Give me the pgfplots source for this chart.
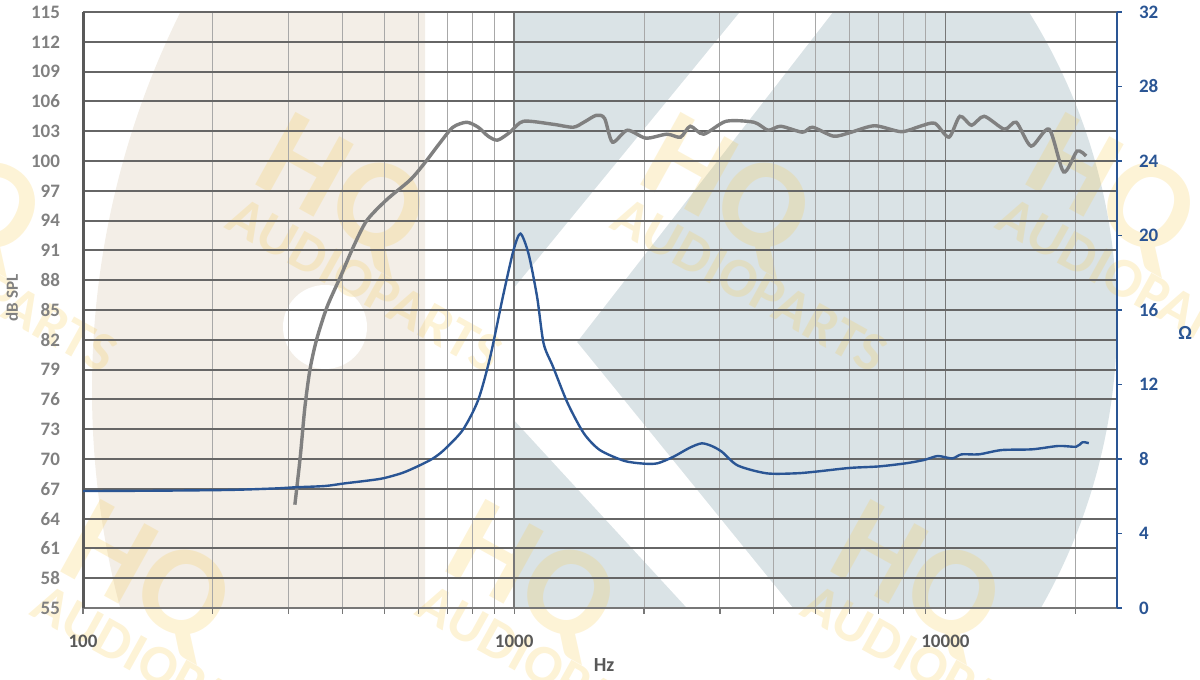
\documentclass[border=0pt]{standalone}
\usepackage{fontspec}
\setmainfont{Carlito}
\usepackage{pgfplots}
\pgfplotsset{compat=1.18}
\definecolor{splgray}{HTML}{808080}
\definecolor{impblue}{HTML}{2A5594}
\definecolor{gridy}{HTML}{666666}
\definecolor{gridxmaj}{HTML}{777777}
\definecolor{gridxmin}{HTML}{A8A8A8}
\definecolor{beigebg}{HTML}{F3EEE7}
\definecolor{bluebg}{HTML}{DAE3E6}
\definecolor{wmc}{HTML}{F6CC55}
\definecolor{ylab}{HTML}{808080}
\definecolor{xlab}{HTML}{595959}
\definecolor{axleft}{HTML}{595959}

\pgfplotstableread{
f db
310 65.4
319 70.2
327 75.2
336 79.0
348 82.0
368 85.3
395 88.3
423 91.3
455 94.0
506 96.1
574 98.1
620 99.8
672 101.8
721 103.4
776 103.9
825 103.4
870 102.5
915 102.1
978 102.9
1050 104.0
1230 103.7
1370 103.4
1450 103.9
1550 104.6
1620 104.3
1690 101.9
1830 103.1
2020 102.3
2260 102.7
2430 102.4
2560 103.5
2750 102.7
3100 104.0
3600 103.9
3880 103.1
4150 103.5
4660 102.9
4920 103.4
5500 102.5
6000 102.85
6850 103.55
7900 102.95
8740 103.5
9450 103.8
10190 102.4
10800 104.5
11500 103.6
12300 104.5
13700 103.2
14600 103.9
15800 101.5
17400 103.2
18800 98.9
20200 101.0
21200 100.5
}\spl

\pgfplotstableread{
f z
100 6.28
150 6.30
219 6.34
280 6.42
310 6.48
364 6.55
404 6.69
450 6.82
496 6.96
550 7.25
595 7.59
645 8.0
687 8.48
760 9.56
825 11.17
880 13.5
941 16.7
996 19.2
1034 20.1
1080 19.0
1130 16.7
1170 14.2
1230 12.96
1330 11.0
1450 9.38
1580 8.48
1800 7.9
2000 7.75
2150 7.77
2340 8.12
2550 8.6
2720 8.84
2870 8.7
3030 8.39
3300 7.65
3850 7.23
4500 7.23
5000 7.32
6000 7.52
7000 7.6
8100 7.77
8930 7.95
9600 8.16
10370 8.03
10900 8.25
11950 8.25
13500 8.48
15900 8.52
18300 8.7
20100 8.66
20800 8.9
21500 8.85
}\imp

\newcommand{\wm}[2]{%
  \node[rotate=-29, text=wmc, opacity=0.24, font=\bfseries\fontsize{28}{28}\selectfont, inner sep=0pt] at (#1,#2) {AUDIOPARTS};
  \node[rotate=-29, text=wmc, opacity=0.24, font=\bfseries\fontsize{64}{64}\selectfont, inner sep=0pt] at ({#1-25},{#2-92}) {HQ};}

\begin{document}
\begin{tikzpicture}
\path[use as bounding box] (-41.5pt,-36pt) rectangle (558.5pt,304pt);
\begin{scope}[x=0.5pt,y=-0.5pt,shift={(-41.5pt,304pt)}]
  \begin{scope}
    \clip (83,12) rectangle (425,608);
    \fill[beigebg] (942,390) circle[radius=850];
    \fill[white] (325,327) circle[radius=42];
  \end{scope}
  \begin{scope}
    \clip (514,12) rectangle (1117,608);
    \fill[bluebg] (535,320) circle[radius=582];
    \fill[white] (740,12) -- (833,12) -- (577,342) -- (793,608) -- (687,608) -- (514,420) -- (514,288) -- cycle;
  \end{scope}
  \wm{-20}{285}
  \wm{365}{285}
  \wm{750}{285}
  \wm{1135}{285}
  \wm{170}{672}
  \wm{555}{672}
  \wm{940}{672}
\end{scope}

\begin{axis}[
  at={(0pt,0pt)}, anchor=south west,
  width=517pt, height=298pt, scale only axis,
  xmode=log, xmin=100, xmax=25000, ymin=55, ymax=115,
  /pgf/number format/assume math mode=true,
  ytick={55,58,...,115},
  xtick={100,1000,10000}, xticklabels={100,1000,10000},
  minor xtick={200,300,400,500,600,700,800,900,2000,3000,4000,5000,6000,7000,8000,9000,20000},
  xmajorgrids=true, xminorgrids=true, ymajorgrids=true,
  major x grid style={gridxmaj, line width=0.8pt},
  minor x grid style={gridxmin, line width=0.5pt},
  major y grid style={gridy, line width=0.95pt},
  axis x line*=bottom, axis y line*=left,
  x axis line style={draw=gridxmaj, line width=1pt},
  y axis line style={draw=axleft, line width=1.5pt},
  xtick pos=left, ytick pos=left,
  tick align=outside,
  major tick length=3pt, minor tick length=3pt,
  xtick style={draw=gridxmaj, line width=0.6pt},
  ytick style={draw=none},
  yticklabel style={font=\bfseries\fontsize{9.5}{11}\selectfont, text=ylab, anchor=east, xshift=-5pt},
  xticklabel style={font=\bfseries\fontsize{9.5}{11}\selectfont, text=xlab, yshift=-7pt},
  ylabel={dB SPL},
  ylabel style={at={(axis description cs:-0.0687,0.52)}, anchor=center, font=\bfseries\fontsize{8.5}{10}\selectfont, text=ylab},
  xlabel={Hz},
  xlabel style={at={(axis description cs:0.504,-0.0956)}, anchor=center, font=\bfseries\fontsize{10}{12}\selectfont, text=xlab},
]
\addplot[splgray, line width=1.7pt, smooth, tension=0.45] table[x=f, y=db] {\spl};
\end{axis}

\begin{axis}[
  at={(0pt,0pt)}, anchor=south west,
  width=517pt, height=298pt, scale only axis,
  xmode=log, xmin=100, xmax=25000, ymin=0, ymax=32,
  /pgf/number format/assume math mode=true,
  axis x line=none, axis y line*=right,
  ytick={0,4,...,32}, ytick pos=right,
  tick align=outside, major tick length=2.5pt,
  ytick style={draw=impblue, line width=0.9pt},
  y axis line style={draw=impblue, line width=1.2pt},
  yticklabel style={font=\bfseries\fontsize{9.5}{11}\selectfont, text=impblue, anchor=west, xshift=5pt},
  ylabel={Ω},
  ylabel style={at={(axis description cs:1.0658,0.461)}, anchor=center, rotate=-90, font=\bfseries\fontsize{10}{12}\selectfont, text=impblue},
]
\addplot[impblue, line width=1.2pt, smooth, tension=0.45] table[x=f, y=z] {\imp};
\end{axis}
\end{tikzpicture}
\end{document}
